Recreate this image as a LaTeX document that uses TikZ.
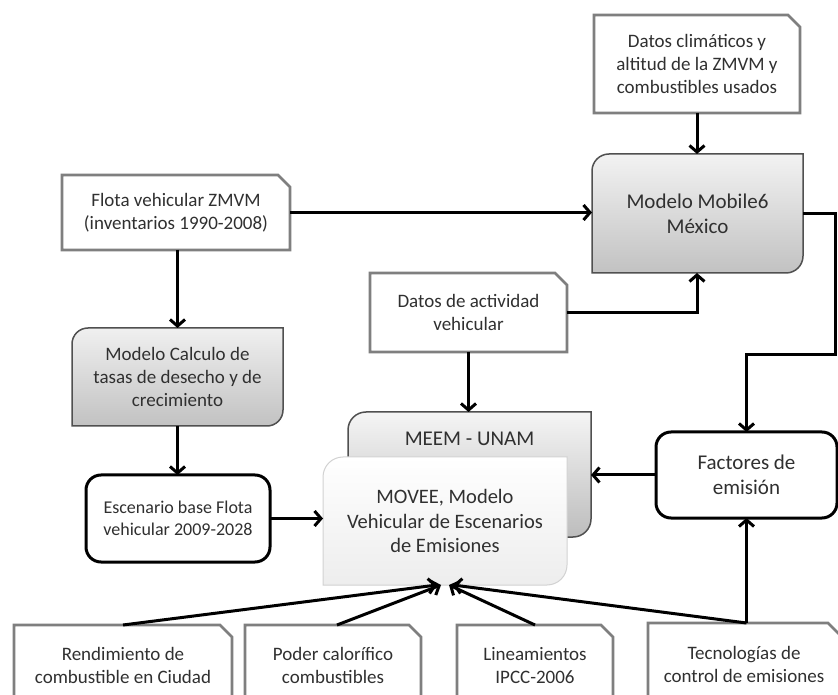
\documentclass[tikz,border=0pt]{standalone}
\usepackage{fontspec}
\setmainfont{Carlito}
\usetikzlibrary{arrows.meta,backgrounds,calc}
\definecolor{txt}{HTML}{303030}
\definecolor{snipgray}{HTML}{7F7F7F}
\definecolor{edgedark}{HTML}{505050}
\newcommand\snipshape[2]{%
  \path[snipline] (#1.south west) -- (#1.north west) -- ([xshift=-#2]#1.north east) -- ([yshift=-#2]#1.north east) -- (#1.south east) -- cycle;}
\newcommand\diagshape[3]{%
  \path[#3] (#1.south west) -- ([yshift=-#2]#1.north west) arc[start angle=180,end angle=90,radius=#2] -- (#1.north east) -- ([yshift=#2]#1.south east) arc[start angle=0,end angle=-90,radius=#2] -- cycle;}
\begin{document}
\begin{tikzpicture}[x=1pt,y=1pt,
  box/.style={draw=none, rectangle, outer sep=0pt, inner sep=0pt, align=center, text=txt, font=\fontsize{19}{23}\selectfont},
  big/.style={font=\fontsize{21}{25}\selectfont},
  small/.style={font=\fontsize{18}{21.5}\selectfont},
  snipline/.style={draw=snipgray, line width=2.6pt, fill=white, line join=miter},
  blackround/.style={draw=black, line width=3pt, rounded corners=15pt, fill=white},
  arr/.style={line width=3pt, -{Straight Barb[length=6.5pt,width=15pt]}},
]
\useasboundingbox (0,0) rectangle (838,694);

\node[box, minimum width=206, minimum height=98] (clima) at (697,630) {Datos climáticos y\\altitud de la ZMVM y\\combustibles usados};
\node[box, big, minimum width=211, minimum height=119] (mobile) at (697.5,480.5) {Modelo Mobile6\\México};
\node[box, minimum width=228, minimum height=75] (flota) at (176,481.5) {Flota vehicular ZMVM\\(inventarios 1990-2008)};
\node[box, minimum width=197, minimum height=79] (activ) at (468.5,381.5) {Datos de actividad\\vehicular};
\node[box, minimum width=211, minimum height=98] (calc) at (177.5,317) {Modelo Calculo de\\tasas de desecho y de\\crecimiento};
\node[box, minimum width=243, minimum height=125] (meem) at (469.5,219.5) {};
\node[box, big] (meemtxt) at (469.5,255) {MEEM - UNAM};
\node[box, font=\fontsize{20.5}{24.5}\selectfont, minimum width=244, minimum height=128] (movee) at (445,173) {MOVEE, Modelo\\Vehicular de Escenarios\\de Emisiones};
\node[box, small, minimum width=184, minimum height=87] (escen) at (178,175.5) {Escenario base Flota\\vehicular 2009-2028};
\node[box, big, minimum width=181, minimum height=86] (factores) at (746.5,219) {Factores de\\emisión};
\node[box, minimum width=218, minimum height=81] (rend) at (123,28.5) {Rendimiento de\\combustible en Ciudad};
\node[box, minimum width=176, minimum height=81] (poder) at (333,28.5) {Poder calorífico\\combustibles};
\node[box, minimum width=156, minimum height=81] (linea) at (535,28.5) {Lineamientos\\IPCC-2006};
\node[box, minimum width=192, minimum height=82] (tecno) at (744,30) {Tecnologías de\\control de emisiones};

\begin{scope}[on background layer]
  \fill[white] (0,0) rectangle (838,694);
  \begin{scope}
  \clip (0,0) rectangle (838,694);
  \snipshape{clima}{12pt}
  \snipshape{flota}{12pt}
  \snipshape{activ}{12pt}
  \snipshape{rend}{12pt}
  \snipshape{poder}{12pt}
  \snipshape{linea}{12pt}
  \snipshape{tecno}{12pt}
  \diagshape{mobile}{17pt}{draw=edgedark, line width=1.5pt, top color=gray!10, bottom color=gray!48}
  \diagshape{calc}{16pt}{draw=edgedark, line width=1.5pt, top color=gray!12, bottom color=gray!48}
  \diagshape{meem}{18pt}{draw=edgedark, line width=1.5pt, top color=gray!8, bottom color=gray!52}
  \diagshape{movee}{20pt}{draw=gray!35, line width=1pt, top color=white, bottom color=gray!14}
  \path[blackround] (escen.south west) rectangle (escen.north east);
  \path[blackround] (factores.south west) rectangle (factores.north east);
  \end{scope}
\end{scope}

\coordinate (loopx) at (835.5,339);
\coordinate (tq) at (factores.south |- tecno.north);
\draw[arr] (clima.south) -- (clima.south |- mobile.north);
\draw[arr] (flota.east) -- (flota.east -| mobile.west);
\draw[arr, line join=miter] (mobile.east) -- (mobile.east -| loopx) -- (loopx) -- (loopx -| factores.north) -- (factores.north);
\draw[arr, line join=miter] (activ.east) -| (mobile.south -| clima.south);
\draw[arr] (activ.south) -- (activ.south |- meem.north);
\draw[arr] (calc.north |- flota.south) -- (calc.north);
\draw[arr] (calc.south) -- (calc.south |- escen.north);
\draw[arr] (escen.east) -- (escen.east -| movee.west);
\draw[arr] (factores.west) -- (factores.west -| meem.east);
\draw[arr] (tq) -- (factores.south);
\draw[arr] (rend.north) -- ([xshift=-8]movee.south);
\draw[arr] ([xshift=4]poder.north) -- ([xshift=-4]movee.south);
\draw[arr] (linea.north) -- ([xshift=4]movee.south);
\draw[arr] (tq) -- ([xshift=8]movee.south);
\end{tikzpicture}
\end{document}
